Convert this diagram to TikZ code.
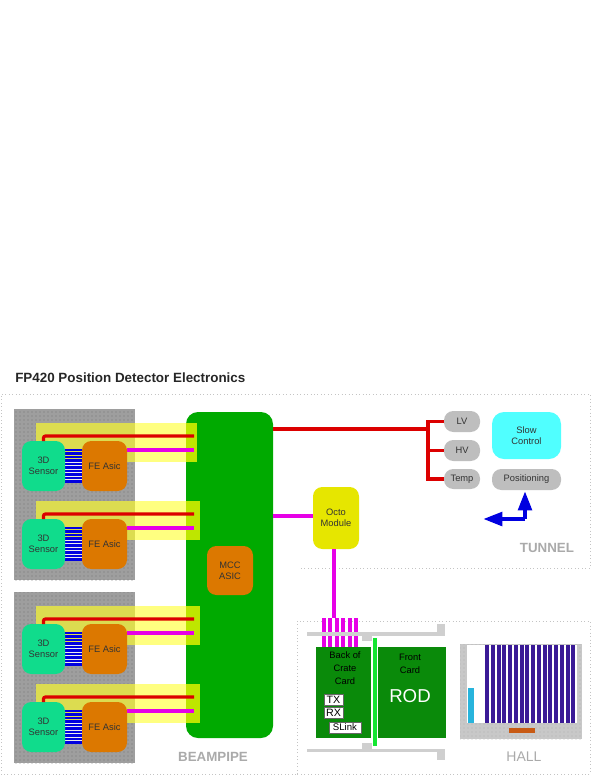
\documentclass[tikz,border=0pt]{standalone}
\usepackage{fontspec}
\setmainfont{Liberation Sans}
\usetikzlibrary{arrows.meta,patterns}
\definecolor{grayblock}{HTML}{9E9E9E}
\definecolor{ydark}{HTML}{DCDC50}
\definecolor{ylight}{HTML}{FFFF80}
\definecolor{ylime}{HTML}{BEE600}
\definecolor{pipegreen}{HTML}{00AA00}
\definecolor{sensorgreen}{HTML}{10DC8C}
\definecolor{asic}{HTML}{DC7800}
\definecolor{wirered}{HTML}{DC0000}
\definecolor{wiremag}{HTML}{E600E6}
\definecolor{wireblue}{HTML}{0000E0}
\definecolor{pill}{HTML}{BEBEBE}
\definecolor{slowc}{HTML}{50FFFF}
\definecolor{octo}{HTML}{E6E600}
\definecolor{cardg}{HTML}{0A8A0A}
\definecolor{barg}{HTML}{14E632}
\definecolor{rail}{HTML}{CFCFCF}
\definecolor{crateb}{HTML}{3A1A96}
\definecolor{crateg}{HTML}{C8C8C8}
\definecolor{cyanb}{HTML}{28B4DC}
\definecolor{oranb}{HTML}{C85A14}
\definecolor{zone}{HTML}{C4C4C4}
\definecolor{labelg}{HTML}{AAAAAA}
\tikzset{
 x=0.75pt,y=-0.75pt,
 box/.style={inner sep=0pt,outer sep=0pt,align=center,font=\fontsize{7}{8.2}\selectfont,text=black!80},
 sensor/.style={box,fill=sensorgreen,rounded corners=7pt,minimum width=32.25pt,minimum height=37.5pt},
 feasic/.style={box,fill=asic,rounded corners=7pt,minimum width=33.75pt,minimum height=37.5pt},
 pillbox/.style={box,fill=pill,rounded corners=7pt},
 whitetag/.style={box,fill=white,draw=black!60,line width=.3pt,font=\fontsize{8}{8}\selectfont,text=black},
 redw/.style={wirered,line width=2.4pt},
 magw/.style={wiremag,line width=2.4pt},
 zoneline/.style={zone,line width=.6pt,dotted},
 zonelabel/.style={inner sep=0pt,text=labelg,font=\bfseries\fontsize{10}{10}\selectfont},
 arrowarm/.style={wireblue,line width=3.2pt,-{Triangle[length=14.5pt,width=10pt]}},
 mottled/.style={pattern=dots,pattern color=#1},
}
\newcommand{\strip}[2]{%
 \fill[ydark] (36,#1) rectangle (135,#1+39);
 \fill[ylight] (135,#1) rectangle (186,#1+39);
 \fill[ylime] (186,#1) rectangle (#2,#1+39);
}
\newcommand{\channel}[4]{%
 \fill[white!85!gray] (65,#1+21) rectangle (82,#1+42);
 \foreach \k in {0,...,9}{\draw[wireblue,line width=1.8pt] (65,#1+9+\k*3.5) -- (82,#1+9+\k*3.5);}
 \node[sensor] (s#4) at (43.5,#1+25) {#2\\Sensor};
 \node[feasic] (f#4) at (104.5,#1+25) {#3};
 \coordinate (rt#4) at (194,#1-5);
 \coordinate (mt#4) at (194,#1+9);
 \draw[redw,rounded corners=1.5pt] (s#4.north) |- (rt#4);
 \draw[magw] (f#4.east |- mt#4) -- (mt#4);
}
\begin{document}
\begin{tikzpicture}
\useasboundingbox (0,0) rectangle (599,776);
\fill[white] (0,0) rectangle (599,776);
\node[anchor=west,inner sep=0pt,font=\bfseries\fontsize{10.05}{11}\selectfont,text=black!85] (title) at (15,378) {FP420 Position Detector Electronics};
% zones
\draw[zoneline] (296,774) -- (1,774) -- (1,394) -- (590,394) -- (590,568) -- (300,568);
\draw[zoneline] (297,774) -- (297,621) -- (590,621) -- (590,774) -- (297,774);
% gray blocks
\fill[grayblock] (14,409) rectangle (135,580);
\fill[mottled=black!55] (14,409) rectangle (135,580);
\fill[grayblock] (14,592) rectangle (135,763);
\fill[mottled=black!55] (14,592) rectangle (135,763);
% beampipe
\node[box,fill=pipegreen,rounded corners=9pt,minimum width=65.25pt,minimum height=244.5pt] (pipe) at (229.5,575) {};
% yellow strips
\strip{423}{197}
\strip{501}{200}
\strip{606}{200}
\strip{684}{200}
% channels
\channel{441}{3D}{FE Asic}{a}
\channel{519}{3D}{FE Asic}{b}
\channel{624}{3D}{FE Asic}{c}
\channel{702}{3D}{FE Asic}{d}
\node[feasic,minimum width=34.5pt,minimum height=36.75pt] (mcc) at (230,570.5) {MCC\\ASIC};
% tunnel
\node[pillbox,minimum width=27pt,minimum height=15.75pt] (lv) at (462,421.5) {LV};
\node[pillbox,minimum width=27pt,minimum height=15.75pt] (hv) at (462,450.5) {HV};
\node[pillbox,minimum width=27pt,minimum height=15pt] (temp) at (462,479) {Temp};
\node[box,fill=slowc,rounded corners=9pt,minimum width=51.75pt,minimum height=35.25pt] (slow) at (526.5,435.5) {Slow\\Control};
\node[pillbox,minimum width=51.75pt,minimum height=15.75pt] (pos) at (526.5,479.5) {Positioning};
\coordinate (bus) at (428,429);
\draw[redw] (pipe.east |- bus) -- (bus);
\draw[redw] (lv.west) -- (lv.west -| bus) -- (temp.west -| bus) -- (temp.west);
\draw[redw] (hv.west -| bus) -- (hv.west);
\coordinate (armc) at (525,519);
\coordinate (armw) at (483,519);
\coordinate (armn) at (525,491);
\draw[arrowarm] (armc) -- (armw);
\draw[arrowarm] (armc) -- (armn);
\node[box,fill=octo,rounded corners=7pt,minimum width=34.5pt,minimum height=46.5pt] (octom) at (336,518) {Octo\\Module};
\coordinate (po) at (273,516);
\draw[magw] (po) -- (po -| octom.west);
\coordinate (bp) at (334,618);
\draw[magw] (octom.south -| bp) -- (bp);
\node[zonelabel] (tunnel) at (547,548) {TUNNEL};
\node[zonelabel] (beam) at (213,757) {BEAMPIPE};
\node[zonelabel,font=\fontsize{10.5}{11}\selectfont] (hall) at (524,757) {HALL};
% ROD
\foreach \x in {324,330,336.5,343,349.5,356}{\fill[wiremag] (\x-2,618) rectangle (\x+2,648);}
\fill[rail] (307,632) rectangle (437,636);
\fill[rail] (437,624) rectangle (445,636);
\fill[rail] (362,636) rectangle (372,641);
\fill[rail] (307,749) rectangle (437,752);
\fill[rail] (437,749) rectangle (445,760);
\fill[rail] (362,743) rectangle (372,749);
\node[box,fill=cardg,minimum width=41.25pt,minimum height=68.25pt] (back) at (343.5,692.5) {};
\node[box,fill=cardg,minimum width=51pt,minimum height=68.25pt] (front) at (412,692.5) {};
\fill[barg] (373,638) rectangle (377,746);
\node[box,text=black] (backt) at (345,668) {Back of\\[1.3pt]Crate\\[1.3pt]Card};
\node[box,text=black] (frontt) at (410,663.5) {Front\\[1.3pt]Card};
\node[inner sep=0pt,text=white,font=\fontsize{14}{15}\selectfont] (rod) at (410,696) {ROD};
\node[whitetag,minimum width=14pt,minimum height=8pt] (tx) at (333.5,699.5) {TX};
\node[whitetag,minimum width=14pt,minimum height=8pt] (rx) at (333.5,712.5) {RX};
\node[whitetag,font=\fontsize{7.2}{8}\selectfont,minimum width=24pt,minimum height=8pt] (slink) at (345,727.5) {SLink};
% crate
\fill[crateg] (460,644) rectangle (582,739);
\fill[mottled=black!30] (460,644) rectangle (582,739);
\fill[white] (467,645) rectangle (577,723);
\foreach \k in {0,...,15}{\fill[crateb] (485+\k*5.75,645) rectangle (489+\k*5.75,723);}
\fill[cyanb] (468,688) rectangle (474,723);
\fill[oranb] (509,728) rectangle (535,733);
\end{tikzpicture}
\end{document}
